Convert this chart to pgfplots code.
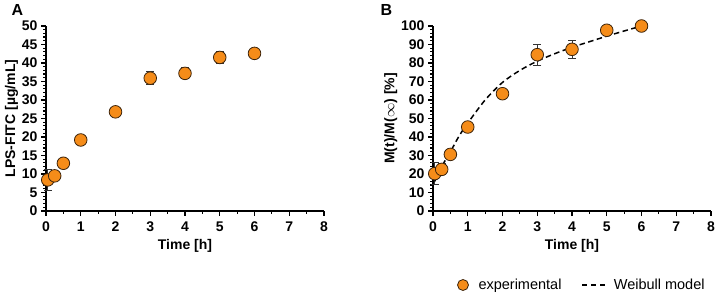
\documentclass[border=0pt]{standalone}
\usepackage{pgfplots}
\pgfplotsset{compat=1.18}
\usepackage{fontspec}
\setmainfont{Liberation Sans}
\definecolor{dotorange}{RGB}{245,140,25}
\definecolor{dotedge}{RGB}{60,35,10}
\pgfplotsset{
  prism/.style={
    scale only axis,
    width=278pt, height=185pt,
    axis lines=left,
    axis line style={-, line width=1.6pt},
    every tick/.style={line width=1.2pt, black},
    tick align=outside,
    major tick length=5pt,
    minor tick length=3pt,
    xmin=0, xmax=8,
    xtick={0,1,...,8},
    minor x tick num=1,
    ymin=0,
    clip=false,
    /pgf/number format/assume math mode=true,
    tick label style={font=\fontsize{14}{14}\selectfont\bfseries},
    label style={font=\fontsize{14}{14}\selectfont\bfseries},
    xticklabel style={yshift=-2pt},
    xlabel={Time [h]},
    xlabel style={yshift=-1pt},
  },
  expt/.style={
    only marks,
    mark=*,
    mark size=6.3pt,
    mark options={fill=dotorange, draw=dotedge, line width=0.8pt},
    error bars/.cd,
      y dir=both, y explicit,
      error bar style={line width=0.9pt, black!80},
      error mark options={rotate=90, mark size=4pt, line width=0.9pt, black!80},
  },
}
\begin{document}
\begin{tikzpicture}
\path[use as bounding box] (0,0) rectangle (715pt,297pt);
\begin{axis}[prism, at={(46pt,86pt)}, anchor=south west,
  ymax=50, ytick={0,5,...,50}, minor y tick num=4,
  ylabel={LPS-FITC [\textmu g/mL]}, ylabel style={yshift=-3pt}]
\addplot[expt] coordinates {
  (0.05,8.4) +- (0,2.9)
  (0.25,9.5) +- (0,0.6)
  (0.5,12.9) +- (0,0.5)
  (1,19.2) +- (0,0.5)
  (2,26.8) +- (0,0.5)
  (3,35.9) +- (0,1.8)
  (4,37.2) +- (0,1.5)
  (5,41.5) +- (0,1.5)
  (6,42.6) +- (0,0.4)
};
\end{axis}
\begin{axis}[prism, at={(433pt,86pt)}, anchor=south west,
  ymax=100, ytick={0,10,...,100}, minor y tick num=4,
  ylabel={M(t)/M($\infty$) [\%]}, ylabel style={yshift=-3pt},
  legend style={at={(0.985,-0.40)}, anchor=east, draw=none, fill=none,
    font=\fontsize{14.5}{14.5}\selectfont, legend columns=2,
    inner sep=0pt,
    /tikz/every even column/.append style={column sep=18pt}},
  legend cell align=left]
\addplot[forget plot, expt] coordinates {
  (0.05,20.2) +- (0,6)
  (0.25,22.5) +- (0,3)
  (0.5,30.6) +- (0,1)
  (1,45.4) +- (0,1)
  (2,63.4) +- (0,2.5)
  (3,84.5) +- (0,5.7)
  (4,87.4) +- (0,4.7)
  (5,97.7) +- (0,1)
  (6,100) +- (0,0.5)
};
\addlegendimage{only marks, mark=*, mark size=5.5pt, mark options={fill=dotorange, draw=dotedge, line width=0.8pt}}
\addlegendentry{\hspace{8pt}experimental}
\addplot[black, line width=1.5pt, dash pattern=on 5.5pt off 3.5pt, smooth,
  legend image code/.code={\draw[black, line width=1.3pt, dash pattern=on 5pt off 4pt] (0pt,0pt) -- (26pt,0pt);}] coordinates {
  (0.05,16) (0.25,24) (0.5,32) (0.75,40.5) (1,47.5) (1.5,60) (2,69.5)
  (2.5,76) (3,81) (3.5,85) (4,88.5) (4.5,91.5) (5,94.5) (5.5,97.3) (6,100)
};
\addlegendentry{\hspace{3pt}Weibull model}
\end{axis}
\node[font=\fontsize{16}{16}\selectfont\bfseries, anchor=base west] at (8pt,281pt) {A};
\node[font=\fontsize{16}{16}\selectfont\bfseries, anchor=base west] at (377pt,281pt) {B};
\end{tikzpicture}
\end{document}
